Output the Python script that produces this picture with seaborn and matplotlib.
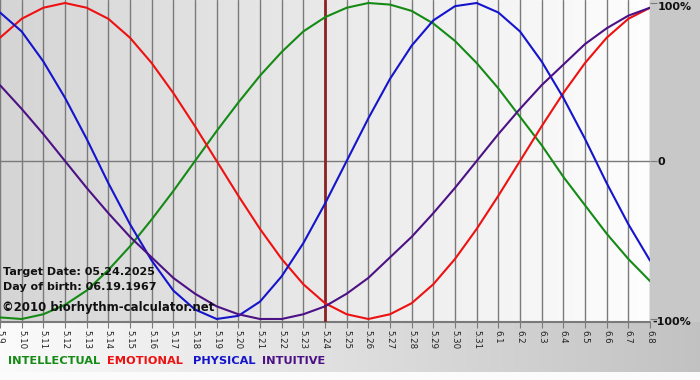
import numpy as np
import pandas as pd
import matplotlib
matplotlib.use("Agg")
import matplotlib.pyplot as plt
import seaborn as sns

# ---- data ----
dates = ["5.9", "5.10", "5.11", "5.12", "5.13", "5.14", "5.15", "5.16", "5.17", "5.18",
         "5.19", "5.20", "5.21", "5.22", "5.23", "5.24", "5.25", "5.26", "5.27", "5.28",
         "5.29", "5.30", "5.31", "6.1", "6.2", "6.3", "6.4", "6.5", "6.6", "6.7", "6.8"]
intellectual = [-0.99, -1.00, -0.97, -0.91, -0.82, -0.69, -0.54, -0.37, -0.19, 0.00,
                0.19, 0.37, 0.54, 0.69, 0.82, 0.91, 0.97, 1.00, 0.99, 0.95,
                0.87, 0.76, 0.62, 0.46, 0.28, 0.10, -0.10, -0.28, -0.46, -0.62, -0.76]
emotional = [0.78, 0.90, 0.97, 1.00, 0.97, 0.90, 0.78, 0.62, 0.43, 0.22,
             0.00, -0.22, -0.43, -0.62, -0.78, -0.90, -0.97, -1.00, -0.97, -0.90,
             -0.78, -0.62, -0.43, -0.22, 0.00, 0.22, 0.43, 0.62, 0.78, 0.90, 0.97]
physical = [0.94, 0.82, 0.63, 0.40, 0.14, -0.14, -0.40, -0.63, -0.82, -0.94,
            -1.00, -0.98, -0.89, -0.73, -0.52, -0.27, 0.00, 0.27, 0.52, 0.73,
            0.89, 0.98, 1.00, 0.94, 0.82, 0.63, 0.40, 0.14, -0.14, -0.40, -0.63]
intuitive = [0.48, 0.33, 0.17, 0.00, -0.17, -0.33, -0.48, -0.61, -0.74, -0.84,
             -0.92, -0.97, -1.00, -1.00, -0.97, -0.92, -0.84, -0.74, -0.61, -0.48,
             -0.33, -0.17, 0.00, 0.17, 0.33, 0.48, 0.61, 0.74, 0.84, 0.92, 0.97]
series_names = ["INTELLECTUAL", "EMOTIONAL", "PHYSICAL", "INTUITIVE"]
series_colors = ["#158a15", "#ee1111", "#1414cc", "#4c1185"]
target_label = "5.24"
y_ticks = [1, 0, -1]
y_tick_labels = ["100%", "0", "-100%"]
info_lines = ["Target Date: 05.24.2025", "Day of birth: 06.19.1967"]
credit = "\u00a92010 biorhythm-calculator.net"

sns.set_style("white")
plt.rcParams["font.family"] = ["DejaVu Sans"]

W, H = 700, 380
fig = plt.figure(figsize=(W / 100, H / 100), dpi=100)

# ---- background image ----
bg = fig.add_axes([0, 0, 1, 1])
bg.set_axis_off()
img = np.full((H, W, 3), 0.785)
plot_w, plot_h = 650, 322
xs = np.linspace(0, 1, plot_w)
grad = 0.835 + (0.995 - 0.835) * xs
img[:plot_h, :plot_w, :] = grad[None, :, None]
xb = np.linspace(0, 1, W)
gradb = 0.985 - (0.985 - 0.76) * xb
img[plot_h:372, :, :] = gradb[None, :, None]
img[372:, :, :] = 0.985
bg.imshow(img, extent=[0, W, H, 0], aspect="auto", interpolation="bilinear")
bg.set_xlim(0, W)
bg.set_ylim(H, 0)

# ---- main axes ----
ax = fig.add_axes([0, (H - plot_h) / H, plot_w / W, plot_h / H])
ax.patch.set_alpha(0)

x = np.arange(len(dates))
df = pd.DataFrame({
    "x": np.tile(x, 4),
    "v": intellectual + emotional + physical + intuitive,
    "series": np.repeat(series_names, len(dates)),
})

for xi in x:
    ax.axvline(xi, color="#7a7a7a", lw=1.0, zorder=1)
ax.axhline(0, color="#7a7a7a", lw=1.0, zorder=1)
ax.axhline(-1.019, color="#7a7a7a", lw=1.5, zorder=1, clip_on=False)

ti = dates.index(target_label)
ax.axvline(ti, color="#8b2323", lw=2.0, zorder=2)

sns.lineplot(data=df, x="x", y="v", hue="series", hue_order=series_names,
             palette=series_colors, legend=False, ax=ax, lw=1.5, zorder=3)

ax.set_xlim(0, len(dates) - 1)
ax.set_ylim(-1.019, 1.019)
for s in ax.spines.values():
    s.set_visible(False)
ax.set_xlabel("")
ax.set_ylabel("")

ax.set_xticks(x)
ax.set_xticklabels(dates, rotation=270, fontsize=6.2, color="#222222")
ax.tick_params(axis="x", length=4, color="#7a7a7a", pad=2, bottom=True)

ax.yaxis.tick_right()
ax.set_yticks(y_ticks)
ax.set_yticklabels([])
ax.tick_params(axis="y", length=5, color="#7a7a7a", pad=2, right=True, left=False)

# right-side percentage labels
label_pos = [(658, 7), (658, 162), (652, 322)]
for lab, (px, py) in zip(y_tick_labels, label_pos):
    fig.text(px / W, 1 - py / H, lab, fontsize=8, fontweight="bold",
             color="#111111", va="center", ha="left")

# ---- texts ----
fig.text(3 / W, 1 - 272 / H, info_lines[0], fontsize=8, fontweight="bold",
         color="#111111", va="center", ha="left")
fig.text(3 / W, 1 - 287 / H, info_lines[1], fontsize=8, fontweight="bold",
         color="#111111", va="center", ha="left")
fig.text(2 / W, 1 - 307 / H, credit, fontsize=8.5, fontweight="bold",
         color="#111111", va="center", ha="left")

leg_x = [8, 107, 193, 262]
for name, col, lx in zip(series_names, series_colors, leg_x):
    fig.text(lx / W, 1 - 361 / H, name, fontsize=8.2, fontweight="bold",
             color=col, va="center", ha="left")

fig.savefig("out.png", dpi=100)
